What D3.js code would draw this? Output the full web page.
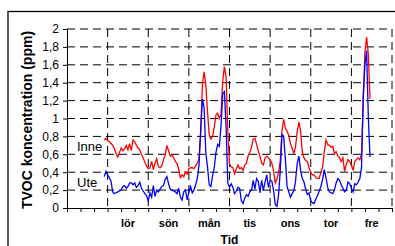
<!DOCTYPE html>
<meta charset="utf-8">
<svg width="395" height="246"></svg>
<style>
	body {
	  margin: 0;
	  background: #fff;
	}
	svg {
	  display: block;
	  font-family: "Liberation Sans", Arial, sans-serif;
	}
	.grid line {
	  stroke: #000;
	  stroke-width: 1;
	  stroke-dasharray: 8,5;
	}
</style>

<script src="https://d3js.org/d3.v7.min.js"></script>
<script>

// dagar (första intervallet saknar etikett)
var dagar = ["", "lör", "sön", "mån", "tis", "ons", "tor", "fre"];

var yTicks = [0, 0.2, 0.4, 0.6, 0.8, 1, 1.2, 1.4, 1.6, 1.8, 2];
var yLabels = ["0", "0,2", "0,4", "0,6", "0,8", "1", "1,2", "1,4", "1,6", "1,8", "2"];

// timvärden, start fredag kl 22 (tid i dygn)
var startTid = 22 / 24;
var steg = 1 / 24;

var inne = [0.76,0.78,0.75,0.74,0.72,0.70,0.66,0.61,0.57,0.62,
	0.67,0.64,0.66,0.70,0.65,0.72,0.64,0.76,0.74,0.70,
	0.67,0.65,0.60,0.56,0.51,0.47,0.44,0.45,0.52,0.43,
	0.50,0.55,0.46,0.45,0.47,0.54,0.59,0.70,0.64,0.58,
	0.59,0.56,0.52,0.50,0.43,0.34,0.37,0.35,0.40,0.38,
	0.44,0.45,0.45,0.44,0.47,0.50,0.55,0.85,1.38,1.52,
	1.38,1.08,0.82,0.77,0.80,0.90,1.04,1.06,1.00,1.05,
	1.42,1.58,1.46,0.85,0.49,0.46,0.45,0.38,0.44,0.48,
	0.44,0.45,0.42,0.48,0.50,0.58,0.62,0.68,0.77,0.78,
	0.71,0.64,0.58,0.50,0.48,0.56,0.58,0.56,0.54,0.50,
	0.42,0.28,0.32,0.40,0.53,0.86,0.99,0.89,0.86,0.81,
	0.72,0.67,0.61,0.68,0.85,0.96,0.86,0.63,0.56,0.53,
	0.52,0.45,0.40,0.37,0.37,0.34,0.33,0.33,0.40,0.46,
	0.63,0.76,0.71,0.70,0.68,0.69,0.61,0.63,0.58,0.56,
	0.52,0.56,0.41,0.49,0.54,0.52,0.48,0.42,0.52,0.54,
	0.56,0.54,0.60,1.18,1.74,1.91,1.72,1.22];

var ute = [0.35,0.41,0.37,0.34,0.30,0.18,0.16,0.17,0.18,0.19,
	0.20,0.24,0.25,0.22,0.24,0.28,0.28,0.26,0.28,0.23,
	0.25,0.29,0.22,0.19,0.16,0.14,0.08,0.17,0.12,0.25,
	0.13,0.20,0.18,0.21,0.24,0.25,0.32,0.35,0.27,0.21,
	0.20,0.19,0.18,0.16,0.22,0.12,0.09,0.18,0.20,0.09,
	0.18,0.24,0.17,0.20,0.26,0.33,0.48,0.88,1.22,1.12,
	0.62,0.46,0.26,0.24,0.36,0.45,0.62,0.71,0.69,0.92,
	1.28,1.30,0.90,0.28,0.23,0.27,0.23,0.16,0.19,0.23,
	0.22,0.08,0.05,0.11,0.15,0.13,0.18,0.20,0.31,0.21,
	0.33,0.30,0.17,0.31,0.20,0.29,0.37,0.23,0.31,0.30,
	0.20,0.04,0.02,0.15,0.42,0.82,0.80,0.55,0.24,0.18,
	0.12,0.16,0.19,0.30,0.50,0.58,0.42,0.33,0.29,0.21,
	0.15,0.17,0.08,0.06,0.05,0.10,0.14,0.19,0.24,0.32,
	0.43,0.34,0.23,0.18,0.17,0.16,0.20,0.28,0.33,0.31,
	0.26,0.22,0.18,0.20,0.29,0.27,0.22,0.18,0.27,0.26,
	0.29,0.33,0.45,1.25,1.60,1.76,1.02,0.57];

var plotLeft = 67, plotRight = 392, plotTop = 29, plotBottom = 208;

var svg = d3.select("svg");

// yttre ram
svg.append("rect")
	.attr("x", 8)
	.attr("y", 11.5)
	.attr("width", 500)
	.attr("height", 300)
	.attr("fill", "none")
	.attr("stroke", "#000")
	.attr("stroke-width", 1.3);

var x = d3.scaleLinear().domain([0, 8]).range([plotLeft, plotRight]);
var y = d3.scaleLinear().domain([0, 2]).range([plotBottom, plotTop]);

// rutnät
var grid = svg.append("g").attr("class", "grid");

grid.selectAll(".h")
	.data(yTicks.slice(1))
	.join("line")
	.attr("x1", plotLeft)
	.attr("x2", plotRight)
	.attr("y1", function(d){ return y(d); })
	.attr("y2", function(d){ return y(d); });

grid.selectAll(".v")
	.data(d3.range(1, 9))
	.join("line")
	.attr("x1", function(d){ return x(d); })
	.attr("x2", function(d){ return x(d); })
	.attr("y1", plotTop)
	.attr("y2", plotBottom);

// axlar
svg.append("g")
	.attr("transform", "translate(0," + plotBottom + ")")
	.call(d3.axisBottom(x)
		.tickValues(d3.range(0, 25).map(function(i){ return i / 3; }))
		.tickSize(4)
		.tickSizeOuter(0)
		.tickFormat(""));

var yAxis = svg.append("g")
	.attr("transform", "translate(" + plotLeft + ",0)")
	.call(d3.axisLeft(y)
		.tickValues(yTicks)
		.tickSize(4)
		.tickSizeOuter(0)
		.tickPadding(4)
		.tickFormat(function(d, i){ return yLabels[i]; }));

yAxis.selectAll("text")
	.attr("font-size", 12)
	.attr("font-family", "Liberation Sans, Arial, sans-serif")
	.attr("fill", "#000");

svg.selectAll(".domain, .tick line").attr("stroke", "#000");

// dagsetiketter
svg.selectAll(".dag")
	.data(dagar)
	.join("text")
	.attr("class", "dag")
	.attr("x", function(d, i){ return x(i + 0.5); })
	.attr("y", 227)
	.attr("text-anchor", "middle")
	.attr("font-size", 11)
	.attr("font-weight", "bold")
	.text(function(d){ return d; });

// axeltitlar
svg.append("text")
	.attr("x", (plotLeft + plotRight) / 2)
	.attr("y", 244)
	.attr("text-anchor", "middle")
	.attr("font-size", 12)
	.attr("font-weight", "bold")
	.text("Tid");

svg.append("text")
	.attr("transform", "translate(32,120) rotate(-90)")
	.attr("text-anchor", "middle")
	.attr("font-size", 14)
	.attr("font-weight", "bold")
	.text("TVOC koncentration (ppm)");

// serier
var line = d3.line()
	.x(function(d, i){ return x(startTid + i * steg); })
	.y(function(d){ return y(d); });

svg.append("path")
	.datum(inne)
	.attr("fill", "none")
	.attr("stroke", "#ff0000")
	.attr("stroke-width", 1.3)
	.attr("d", line);

svg.append("path")
	.datum(ute)
	.attr("fill", "none")
	.attr("stroke", "#0000ff")
	.attr("stroke-width", 1.3)
	.attr("d", line);

// serieetiketter
svg.append("text")
	.attr("x", 77)
	.attr("y", 151)
	.attr("font-size", 13)
	.text("Inne");

svg.append("text")
	.attr("x", 77)
	.attr("y", 187)
	.attr("font-size", 13)
	.text("Ute");

</script>
